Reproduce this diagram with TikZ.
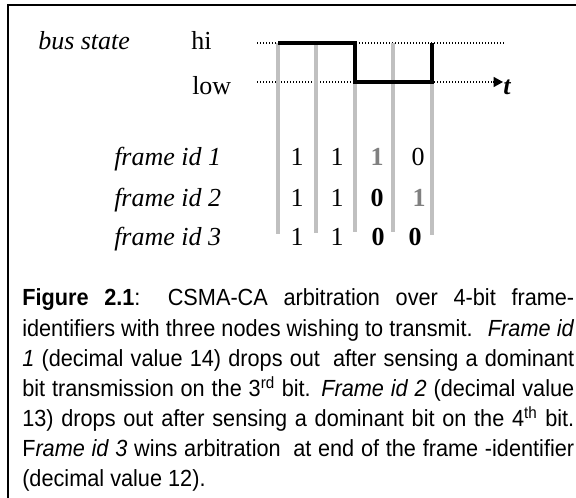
\documentclass[tikz,border=0pt]{standalone}
\usepackage{fontspec}
\setmainfont{Liberation Sans}[FakeStretch=0.93]
\newfontfamily\tms{Liberation Serif}
\usetikzlibrary{arrows.meta}
\definecolor{guide}{RGB}{192,192,192}
\definecolor{dropgray}{RGB}{128,128,128}
\begin{document}
\begin{tikzpicture}[x=0.75pt,y=-0.75pt,
  lbl/.style={anchor=base west,inner sep=0pt,font=\tms\fontsize{19.5}{22}\selectfont},
  ilbl/.style={anchor=base west,inner sep=0pt,font=\tms\itshape\fontsize{19.5}{22}\selectfont},
  digit/.style={anchor=base,inner sep=0pt,font=\tms\fontsize{19.5}{22}\selectfont},
  capline/.style={anchor=base west,inner sep=0pt,font=\fontsize{17.5}{20}\selectfont},
  guideline/.style={draw=guide,line width=2.3pt},
  level/.style={line width=1pt,dash pattern=on 1pt off 1.25pt},
  signal/.style={line width=3.6pt,line join=miter},
  dropped/.style={text=dropgray,font=\tms\bfseries\fontsize{19.5}{22}\selectfont},
  dominant/.style={font=\tms\bfseries\fontsize{19.5}{22}\selectfont}
]
\useasboundingbox (0,0) rectangle (576,498);
\clip (0,0) rectangle (576,498);
% frame
\draw[line width=1.5pt] (8,5) rectangle (620,540);
% labels
\node[ilbl] (bus) at (38,50) {bus state};
\node[lbl] (hi) at (191,50) {hi};
\node[lbl] (low) at (192,95) {low};
% level lines
\coordinate (hiA) at (257,43);
\coordinate (hiB) at (506,43);
\coordinate (loA) at (257,82);
\coordinate (loB) at (493,82);
\coordinate (tip) at (503,82);
\draw[level] (hiA) -- (hiB);
\draw[level] (loA) -- (loB);
\draw[line width=1pt,-{Triangle[length=7pt,width=7.5pt]}] (loB) -- (tip);
\node[anchor=base west,inner sep=0pt,font=\tms\bfseries\itshape\fontsize{19.5}{22}\selectfont] (t) at (503,95) {t};
% guides
\coordinate (gt0) at (278,43);
\coordinate (gt1) at (316,43);
\coordinate (gt2) at (355,43);
\coordinate (gt3) at (393,43);
\coordinate (gt4) at (432,43);
\coordinate (gb0) at (278,234);
\coordinate (gb1) at (316,233);
\coordinate (gb2) at (355,232);
\coordinate (gb3) at (393,232);
\coordinate (gb4) at (432,235);
\foreach \i in {0,...,4}{
  \draw[guideline] (gt\i) -- (gb\i);
}
% signal
\coordinate (d2) at (355,82);
\coordinate (d4) at (432,82);
\draw[signal] (gt0) -- (gt2) -- (d2) -- (d4) -- (gt4);
% frame ids
\node[ilbl] (f1) at (114,166) {frame id 1};
\node[ilbl] (f2) at (114,207) {frame id 2};
\node[ilbl] (f3) at (114,246) {frame id 3};
% bits
\node[digit] (b11) at (297,166) {1};
\node[digit] (b12) at (337,166) {1};
\node[digit,dropped] (b13) at (377,166) {1};
\node[digit] (b14) at (418,166) {0};
\node[digit] (b21) at (297,207) {1};
\node[digit] (b22) at (337,207) {1};
\node[digit,dominant] (b23) at (377,207) {0};
\node[digit,dropped] (b24) at (419,207) {1};
\node[digit] (b31) at (297,246) {1};
\node[digit] (b32) at (337,246) {1};
\node[digit,dominant] (b33) at (378,246) {0};
\node[digit,dominant] (b34) at (415,246) {0};
% caption
\node[capline] (c1) at (22,306) {\makebox[414pt][s]{\textbf{Figure 2.1}: CSMA-CA arbitration over 4-bit frame-}};
\node[capline] (c2) at (22,336.2) {\makebox[414pt][s]{identifiers with three nodes wishing to transmit.\hspace{0.3em} \textit{Frame id}}};
\node[capline] (c3) at (22,366.3) {\makebox[414pt][s]{\textit{1} (decimal value 14) drops out\hspace{0.25em} after sensing a dominant}};
\node[capline] (c4) at (22,396.5) {\makebox[414pt][s]{bit transmission on the 3\textsuperscript{rd} bit. \textit{Frame id 2} (decimal value}};
\node[capline] (c5) at (22,426.7) {\makebox[414pt][s]{13) drops out after sensing a dominant bit on the 4\textsuperscript{th} bit.}};
\node[capline] (c6) at (22,456.8) {\makebox[414pt][s]{F\textit{rame id 3} wins arbitration\hspace{0.25em} at end of the frame -identifier}};
\node[capline] (c7) at (22,487) {(decimal value 12).};
\end{tikzpicture}
\end{document}
